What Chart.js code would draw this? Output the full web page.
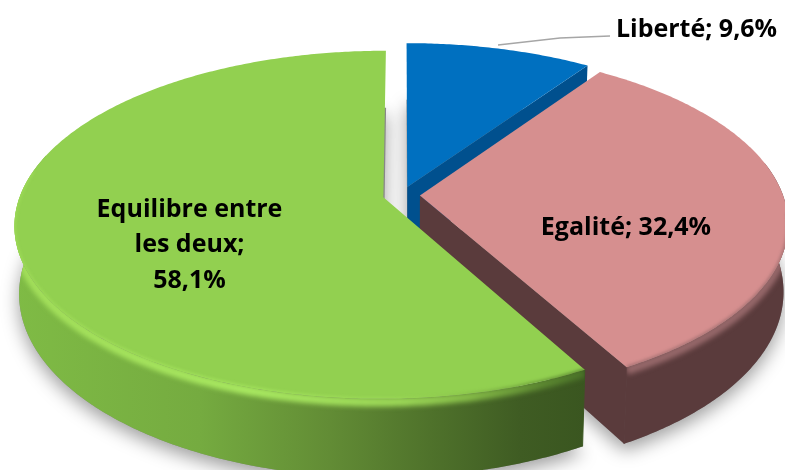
<!DOCTYPE html>
<html><head><meta charset="utf-8">
<style>html,body{margin:0;padding:0;background:#fff;overflow:hidden}canvas{display:block}</style>
<script src="https://cdn.jsdelivr.net/npm/chart.js@4"></script></head>
<body><canvas id="c" width="785" height="470"></canvas>
<script>
const categories = ['Liberté', 'Egalité', 'Equilibre entre les deux'];
const values = [9.6, 32.4, 58.1];
const topColors = ['#0070C0', '#D68F8F', '#92D050'];
const explode = [42, 42, 45];

const fmt = v => String(v).replace('.', ',') + '%';
const labelLines = [
  [categories[0] + '; ' + fmt(values[0])],
  [categories[1] + '; ' + fmt(values[1])],
  ['Equilibre entre', 'les deux;', fmt(values[2])]
];
const labelAt = [[696.5, 29.5], [626, 227.5], [189.5, 209.5]];
const view = {cx: 402, cy: 195, A: 363, B: 169, p: 0.158, H: 66, shrink: 0.012};

function P(u, v, z) {
  const w = 1 - view.p * v;
  return [view.cx + view.A * u / w * (1 - view.shrink * z),
          view.cy + view.B * v / w + view.H * z / w];
}
function arcPts(g, a0, a1, z) {
  const n = Math.max(2, Math.ceil(Math.abs(a1 - a0) / 0.01)), out = [];
  for (let i = 0; i <= n; i++) {
    const a = a0 + (a1 - a0) * i / n;
    out.push(P(g.ox + Math.cos(a), g.oy + Math.sin(a), z));
  }
  return out;
}
function path(ctx, pts, close) {
  ctx.beginPath();
  pts.forEach((p, i) => i ? ctx.lineTo(p[0], p[1]) : ctx.moveTo(p[0], p[1]));
  if (close) ctx.closePath();
}
function xGrad(ctx, stops) {
  const g = ctx.createLinearGradient(0, 0, 785, 0);
  stops.forEach(s => g.addColorStop(s[0] / 785, s[1]));
  return g;
}
function softStroke(ctx, clipPts, linePts, color, width, blur, alpha) {
  ctx.save();
  path(ctx, clipPts, true);
  ctx.clip();
  ctx.filter = 'blur(' + blur + 'px)';
  ctx.strokeStyle = color;
  ctx.lineWidth = width;
  ctx.globalAlpha = alpha;
  path(ctx, linePts, false);
  ctx.stroke();
  ctx.restore();
}

const tilt = {
  id: 'tilt',
  beforeDatasetsDraw(chart) {
    const ctx = chart.ctx, arcs = chart.getDatasetMeta(0).data;
    const wall = [
      '#00508E', '#5A3B3C',
      xGrad(ctx, [[15, '#7FBB45'], [200, '#75AB40'], [330, '#628C35'], [430, '#4F722B'], [520, '#3F5C23'], [585, '#3A5620']])
    ];
    const rim = [
      null,
      '#96686A',
      xGrad(ctx, [[15, '#A2DE5A'], [250, '#A9E961'], [400, '#9DD958'], [470, '#86BC48'], [540, '#5E8A32'], [585, '#4A7228']])
    ];
    arcs.forEach((el, i) => {
      const a = el.getProps(['startAngle', 'endAngle', 'outerRadius']);
      const mid = (a.startAngle + a.endAngle) / 2;
      const off = (el.options.offset / 4) / a.outerRadius;
      const g = {ox: Math.cos(mid) * off, oy: Math.sin(mid) * off};
      const c0 = P(g.ox, g.oy, 0), c1 = P(g.ox, g.oy, 1);
      const top = arcPts(g, a.startAngle, a.endAngle, 0);
      const bot = arcPts(g, a.startAngle, a.endAngle, 1);
      const last = top.length - 1;
      const face = [c0].concat(top);
      // ground shadow
      ctx.save();
      ctx.shadowColor = 'rgba(0,0,0,0.38)';
      ctx.shadowBlur = 18;
      ctx.shadowOffsetY = 7;
      ctx.fillStyle = '#888';
      path(ctx, [c1].concat(bot), true);
      ctx.fill();
      ctx.restore();
      // side walls: only the parts that face the viewer
      ctx.fillStyle = wall[i];
      ctx.strokeStyle = wall[i];
      ctx.lineWidth = 1;
      const wallFrom = Math.max(a.startAngle, -0.2), wallTo = Math.min(a.endAngle, 3.4);
      let band = null;
      if (wallTo > wallFrom) {
        band = arcPts(g, wallFrom, wallTo, 1).concat(arcPts(g, wallFrom, wallTo, 0).reverse());
        path(ctx, band, true); ctx.fill();
      }
      if (i < 2) { path(ctx, [c0, top[last], bot[last], c1], true); ctx.fill(); }
      const corner = i < 2 ? [top[last], bot[last]] : [top[0], bot[0]];
      if (band) { path(ctx, corner, false); ctx.stroke(); }
      // soft rim between top face and wall
      const rimFrom = i === 1 ? 0.1 : a.startAngle;
      const rimTo = i === 2 ? 3.3 : a.endAngle;
      if (rim[i]) softStroke(ctx, band, arcPts(g, rimFrom, rimTo, 0.04), rim[i], 9, 2.5, 1);
      // top face
      ctx.fillStyle = el.options.backgroundColor;
      path(ctx, face, true); ctx.fill();
      if (rim[i]) softStroke(ctx, face, arcPts(g, rimFrom, rimTo, 0), rim[i], 3, 1.5, 0.7);
    });
    return false;
  },
  afterDraw(chart) {
    const ctx = chart.ctx;
    ctx.save();
    ctx.strokeStyle = '#A6A6A6';
    ctx.lineWidth = 1.3;
    ctx.beginPath(); ctx.moveTo(498, 45); ctx.lineTo(560, 38); ctx.lineTo(610, 36); ctx.stroke();
    ctx.fillStyle = '#000';
    ctx.font = '700 25px "Open Sans"';
    ctx.textAlign = 'center';
    ctx.textBaseline = 'middle';
    labelLines.forEach((lines, i) => lines.forEach((t, k) =>
      ctx.fillText(t, labelAt[i][0], labelAt[i][1] + k * 35.5)));
    ctx.restore();
  }
};

new Chart(document.getElementById('c'), {
  type: 'pie',
  data: {labels: categories, datasets: [{data: values, backgroundColor: topColors, offset: explode, borderWidth: 0}]},
  options: {responsive: false, animation: false, layout: {padding: 0},
    plugins: {legend: {display: false}, tooltip: {enabled: false}}},
  plugins: [tilt]
});
</script></body></html>
